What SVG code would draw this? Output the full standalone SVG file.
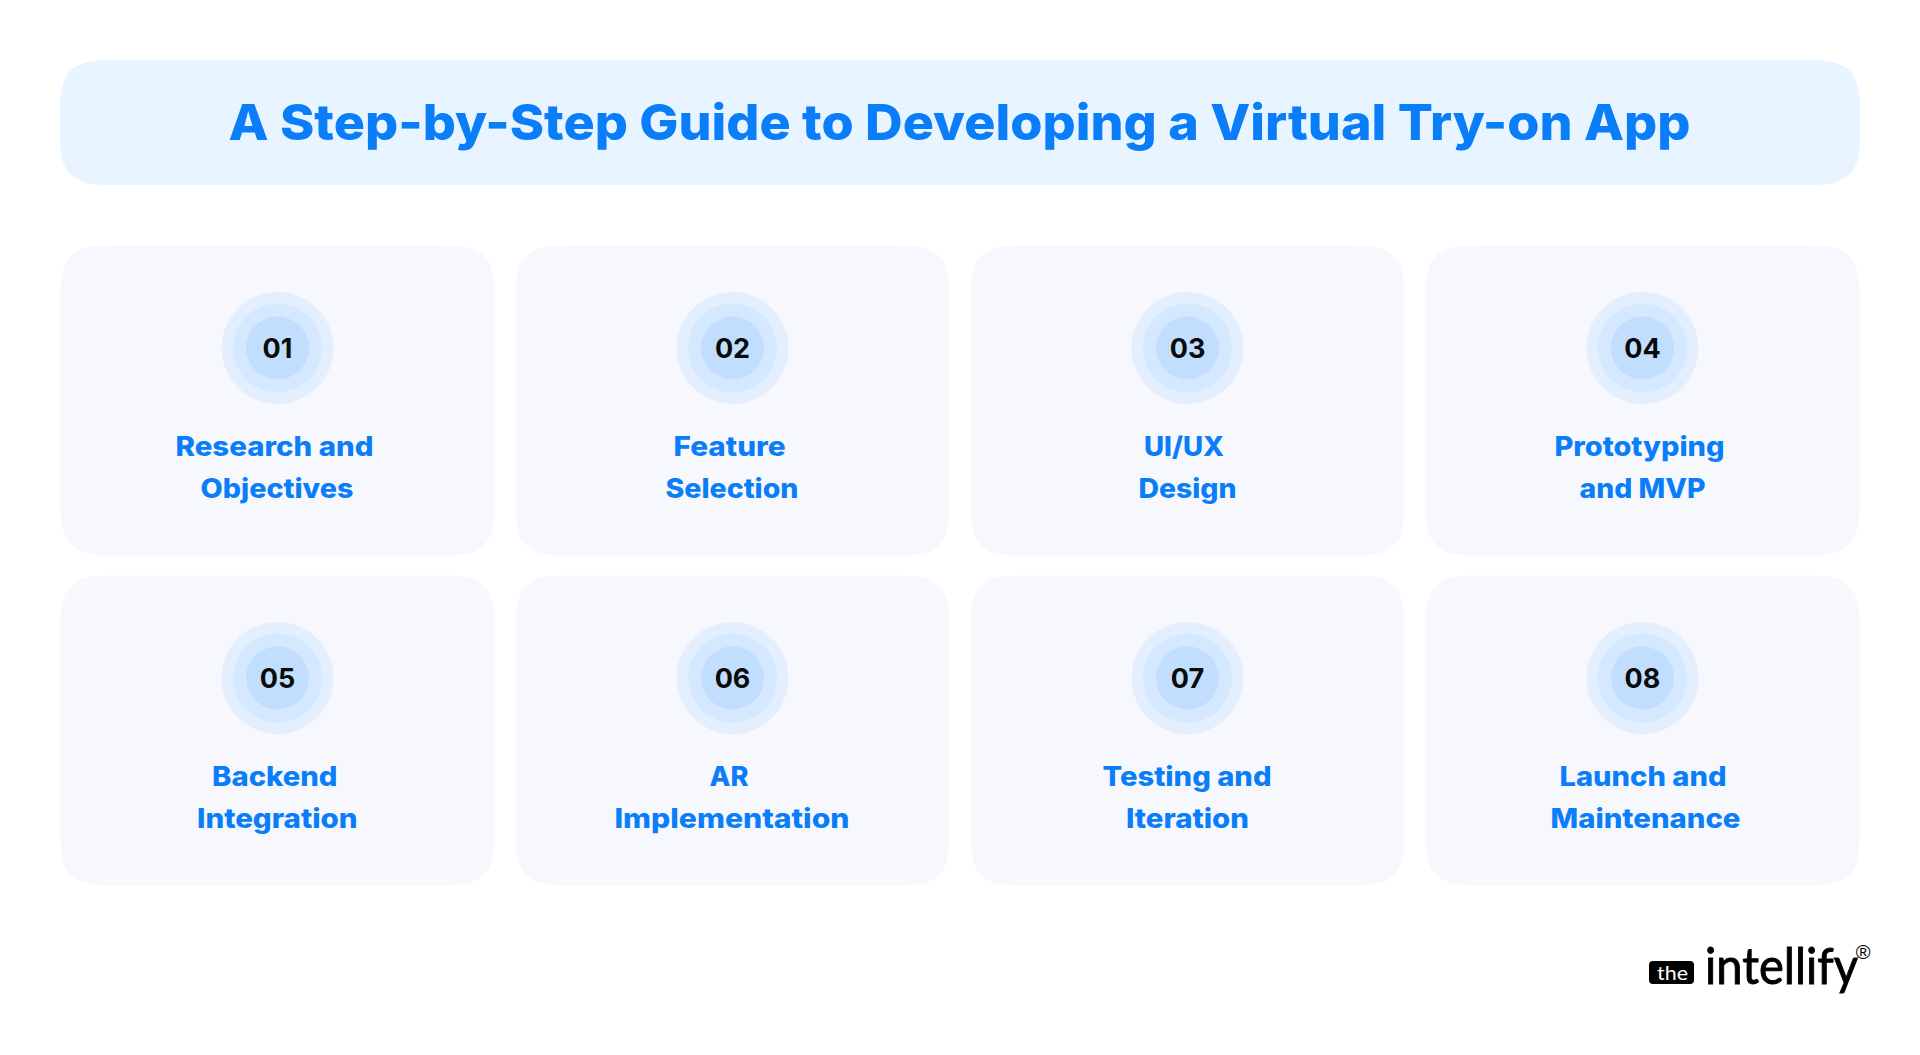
<svg xmlns="http://www.w3.org/2000/svg" xmlns:xlink="http://www.w3.org/1999/xlink" width="1920" height="1055" viewBox="0 0 1920 1055">
<style>
.t{font-family:"Inter","Liberation Sans",sans-serif;font-weight:800;fill:#0a7df8}
.l{font-size:27px}
.n{font-family:"Inter","Liberation Sans",sans-serif;font-weight:700;font-size:27px;fill:#0a0a0a;text-anchor:middle}
.card{fill:#f6f8fd}
.c1{fill:#e3effe}.c2{fill:#d4e8ff}.c3{fill:#c2defe}
</style>
<defs>
<path id="cardShape" d="M48 0H386C422 0 434 12 434 48V262C434 298 422 310 386 310H48C12 310 0 298 0 262V48C0 12 12 0 48 0Z"/>
<g id="rings"><circle class="c1" r="56"/><circle class="c2" r="44.5"/><circle class="c3" r="31.5"/></g>
</defs>
<rect width="1920" height="1055" fill="#fff"/>
<g id="title">
<path fill="#e8f4ff" d="M108 60H1812C1848 60 1860 72 1860 108V137C1860 173 1848 185 1812 185H108C72 185 60 173 60 137V108C60 72 72 60 108 60Z"/>
<text class="t" x="228.500" y="140" font-size="50" textLength="1462" lengthAdjust="spacingAndGlyphs">A Step-by-Step Guide to Developing a Virtual Try-on App</text>
</g>
<g id="step01"><use xlink:href="#cardShape" class="card" x="60.500" y="245.500"/><use xlink:href="#rings" x="277.500" y="348"/><text class="n" x="277.500" y="358">01</text>
<text class="t l" x="175.500" y="455.500" textLength="198" lengthAdjust="spacingAndGlyphs">Research and</text><text class="t l" x="200.500" y="497.500" textLength="153" lengthAdjust="spacingAndGlyphs">Objectives</text></g>
<g id="step02"><use xlink:href="#cardShape" class="card" x="515.500" y="245.500"/><use xlink:href="#rings" x="732.500" y="348"/><text class="n" x="732.500" y="358">02</text>
<text class="t l" x="673.500" y="455.500" textLength="112" lengthAdjust="spacingAndGlyphs">Feature</text><text class="t l" x="665.500" y="497.500" textLength="133" lengthAdjust="spacingAndGlyphs">Selection</text></g>
<g id="step03"><use xlink:href="#cardShape" class="card" x="970.500" y="245.500"/><use xlink:href="#rings" x="1187.500" y="348"/><text class="n" x="1187.500" y="358">03</text>
<text class="t l" x="1144" y="455.500" textLength="80" lengthAdjust="spacingAndGlyphs">UI/UX</text><text class="t l" x="1138.500" y="497.500" textLength="98" lengthAdjust="spacingAndGlyphs">Design</text></g>
<g id="step04"><use xlink:href="#cardShape" class="card" x="1425.500" y="245.500"/><use xlink:href="#rings" x="1642.500" y="348"/><text class="n" x="1642.500" y="358">04</text>
<text class="t l" x="1554.500" y="455.500" textLength="170" lengthAdjust="spacingAndGlyphs">Prototyping</text><text class="t l" x="1579.500" y="497.500" textLength="126" lengthAdjust="spacingAndGlyphs">and MVP</text></g>
<g id="step05"><use xlink:href="#cardShape" class="card" x="60.500" y="575.500"/><use xlink:href="#rings" x="277.500" y="678"/><text class="n" x="277.500" y="688">05</text>
<text class="t l" x="212" y="785.500" textLength="125.500" lengthAdjust="spacingAndGlyphs">Backend</text><text class="t l" x="197" y="827.500" textLength="160.500" lengthAdjust="spacingAndGlyphs">Integration</text></g>
<g id="step06"><use xlink:href="#cardShape" class="card" x="515.500" y="575.500"/><use xlink:href="#rings" x="732.500" y="678"/><text class="n" x="732.500" y="688">06</text>
<text class="t l" x="709.500" y="785.500" textLength="39" lengthAdjust="spacingAndGlyphs">AR</text><text class="t l" x="614.500" y="827.500" textLength="235" lengthAdjust="spacingAndGlyphs">Implementation</text></g>
<g id="step07"><use xlink:href="#cardShape" class="card" x="970.500" y="575.500"/><use xlink:href="#rings" x="1187.500" y="678"/><text class="n" x="1187.500" y="688">07</text>
<text class="t l" x="1102.500" y="785.500" textLength="169" lengthAdjust="spacingAndGlyphs">Testing and</text><text class="t l" x="1126" y="827.500" textLength="123" lengthAdjust="spacingAndGlyphs">Iteration</text></g>
<g id="step08"><use xlink:href="#cardShape" class="card" x="1425.500" y="575.500"/><use xlink:href="#rings" x="1642.500" y="678"/><text class="n" x="1642.500" y="688">08</text>
<text class="t l" x="1559.500" y="785.500" textLength="167" lengthAdjust="spacingAndGlyphs">Launch and</text><text class="t l" x="1550.500" y="827.500" textLength="190" lengthAdjust="spacingAndGlyphs">Maintenance</text></g>
<g id="logo">
<rect x="1649" y="961" width="45" height="23" rx="4" fill="#000"/>
<text x="1657" y="979.500" font-family="Lato,'Liberation Sans',sans-serif" font-size="20" fill="#fff" textLength="31" lengthAdjust="spacingAndGlyphs">the</text>
<text x="1705" y="984" font-family="Lato,'Liberation Sans',sans-serif" font-size="51" fill="#000" stroke="#000" stroke-width="0.9" textLength="153" lengthAdjust="spacingAndGlyphs">intellify</text>
<text x="1863" y="959" font-family="'Liberation Sans',sans-serif" font-size="20" fill="#000" text-anchor="middle">®</text>
</g>
</svg>
